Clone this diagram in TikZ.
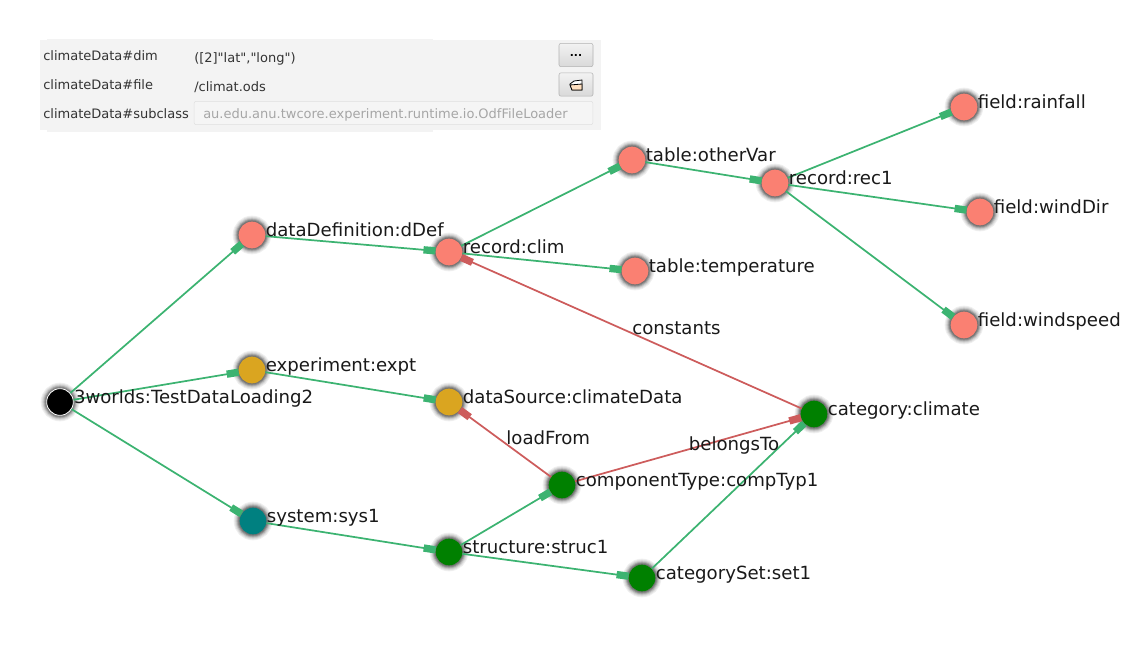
\documentclass[tikz,border=0pt]{standalone}
\usepackage{fontspec}
\setmainfont{DejaVu Sans}
\newfontfamily\formfont{DejaVu Sans}
\usepackage{xcolor}
\usetikzlibrary{arrows.meta,positioning}
\definecolor{salmonc}{RGB}{250,128,114}
\definecolor{goldc}{RGB}{218,165,32}
\definecolor{tealc}{RGB}{0,128,128}
\definecolor{greenc}{RGB}{0,128,0}
\definecolor{edgegreen}{RGB}{60,179,113}
\definecolor{edgered}{RGB}{205,92,92}
\definecolor{panelgray}{RGB}{243,243,243}

\begin{document}
\begin{tikzpicture}[
    x=0.75pt, y=-0.75pt,
    glow/.style={
      preaction={draw=black!6, line width=9pt},
      preaction={draw=black!12, line width=7.5pt},
      preaction={draw=black!20, line width=6pt},
      preaction={draw=black!32, line width=4.5pt},
      preaction={draw=black!45, line width=3pt},
      preaction={draw=black!55, line width=1.5pt}},
    vertex/.style={circle, fill=#1, minimum size=20pt, inner sep=0pt, glow},
    vertex/.default=salmonc,
    arr/.style={-{Rectangle[length=9pt,width=5.5pt]}, line width=1.3pt, color=#1},
    arr/.default=edgegreen,
    lbl/.style={font=\fontsize{13.6}{16}\selectfont, text=black!90, inner sep=0pt,
                text height=0pt, text depth=0pt, yshift=-0.75pt},
    edgelbl/.style={font=\fontsize{13.6}{16}\selectfont, text=black!90, inner sep=0pt,
                    text height=0pt, text depth=0pt, midway, anchor=west, yshift=-0.75pt},
    form/.style={font=\formfont\fontsize{9.75}{12}\selectfont, text=black!80, inner sep=0pt,
                 text height=0pt, text depth=0pt, anchor=west},
    btn/.style={draw=black!30, rounded corners=1.5pt, top color=black!5, bottom color=black!15,
                minimum width=25.5pt, minimum height=17.5pt, inner sep=0pt},
  ]
  \useasboundingbox (0,0) rectangle (1140,657);

  % property panel
  \fill[panelgray] (47,39) rectangle (433,132);
  \fill[panelgray] (40,40) rectangle (601,130);
  \node[form] (dimkey) at (43,60) {climateData\#dim};
  \node[form] (filekey) at (43,89) {climateData\#file};
  \node[form] (subkey) at (43,118) {climateData\#subclass};
  \node[form] (dimval) at (194,62) {([2]"lat","long")};
  \node[form] (fileval) at (194,91) {/climat.ods};
  \node[draw=black!12, fill=black!4, rounded corners=1.5pt, minimum width=299pt, minimum height=17.5pt,
        inner sep=0pt] (subfield) at (393.5,113) {};
  \node[form, text=black!35] (subval) at (203,118) {au.edu.anu.twcore.experiment.runtime.io.OdfFileLoader};
  \node[btn, font=\fontsize{8}{10}\bfseries\selectfont] (dimbtn) at (576,55) {...};
  \node[btn] (filebtn) at (576,84.5) {};
  \draw[black, fill=white, line width=0.6pt]
    (570,84) -- (574,81) -- (582,80) -- (582,90) -- (572,90) -- cycle;
  \draw[black, fill=orange!25, line width=0.6pt]
    (570,85) -- (582,84) -- (582,90) -- (572,90) -- cycle;

  % vertices
  \node[vertex=black, draw=white, line width=0.6pt] (root) at (60,402) {};
  \node[vertex] (dDef) at (252,235) {};
  \node[vertex=goldc] (expt) at (252,370) {};
  \node[vertex=tealc] (sys) at (253,521) {};
  \node[vertex] (clim) at (449,252) {};
  \node[vertex=goldc] (climData) at (449,402) {};
  \node[vertex=greenc] (struc) at (449,552) {};
  \node[vertex] (otherVar) at (632,160) {};
  \node[vertex] (temperature) at (635,271) {};
  \node[vertex] (rec) at (775,183) {};
  \node[vertex] (rainfall) at (964,107) {};
  \node[vertex] (windDir) at (980,212) {};
  \node[vertex] (windspeed) at (964,325) {};
  \node[vertex=greenc] (climate) at (814,414) {};
  \node[vertex=greenc] (compTyp) at (562,485) {};
  \node[vertex=greenc] (catSet) at (642,578) {};

  % tree edges
  \draw[arr] (root) -- (dDef);
  \draw[arr] (root) -- (expt);
  \draw[arr] (root) -- (sys);
  \draw[arr] (dDef) -- (clim);
  \draw[arr] (clim) -- (otherVar);
  \draw[arr] (clim) -- (temperature);
  \draw[arr] (otherVar) -- (rec);
  \draw[arr] (rec) -- (rainfall);
  \draw[arr] (rec) -- (windDir);
  \draw[arr] (rec) -- (windspeed);
  \draw[arr] (expt) -- (climData);
  \draw[arr] (sys) -- (struc);
  \draw[arr] (struc) -- (compTyp);
  \draw[arr] (struc) -- (catSet);
  \draw[arr] (catSet) -- (climate);

  % cross links
  \draw[arr=edgered] (climate) -- node[edgelbl] (constants) {constants} (clim);
  \draw[arr=edgered] (compTyp) -- node[edgelbl] (loadFrom) {loadFrom} (climData);
  \draw[arr=edgered] (compTyp) -- node[edgelbl] (belongsTo) {belongsTo} (climate);

  % names
  \node[lbl, right=0pt of root] (rootname) {3worlds:TestDataLoading2};
  \node[lbl, right=0pt of dDef] (dDefname) {dataDefinition:dDef};
  \node[lbl, right=0pt of expt] (exptname) {experiment:expt};
  \node[lbl, right=0pt of sys] (sysname) {system:sys1};
  \node[lbl, right=0pt of clim] (climname) {record:clim};
  \node[lbl, right=0pt of climData] (climDataname) {dataSource:climateData};
  \node[lbl, right=0pt of struc] (strucname) {structure:struc1};
  \node[lbl, right=0pt of otherVar] (otherVarname) {table:otherVar};
  \node[lbl, right=0pt of temperature] (temperaturename) {table:temperature};
  \node[lbl, right=0pt of rec] (recname) {record:rec1};
  \node[lbl, right=0pt of rainfall] (rainfallname) {field:rainfall};
  \node[lbl, right=0pt of windDir] (windDirname) {field:windDir};
  \node[lbl, right=0pt of windspeed] (windspeedname) {field:windspeed};
  \node[lbl, right=0pt of climate] (climatename) {category:climate};
  \node[lbl, right=0pt of compTyp] (compTypname) {componentType:compTyp1};
  \node[lbl, right=0pt of catSet] (catSetname) {categorySet:set1};
\end{tikzpicture}
\end{document}
